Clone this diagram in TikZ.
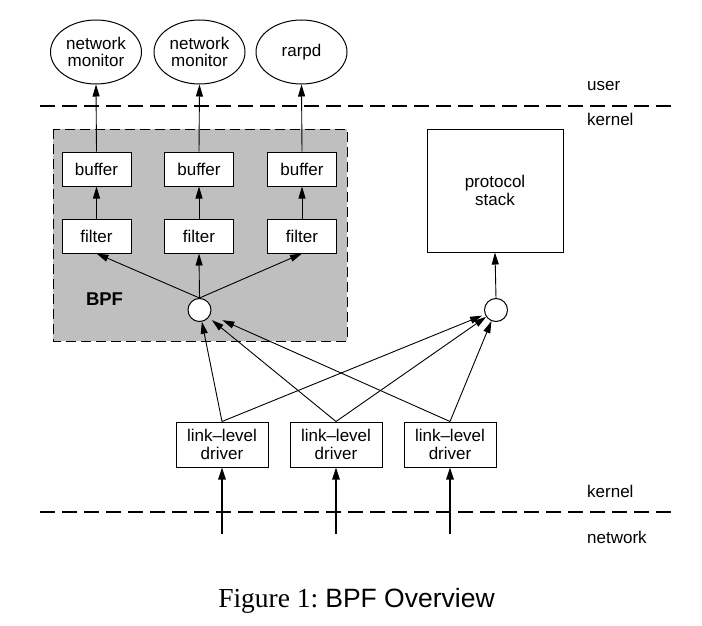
\documentclass[tikz,border=0pt]{standalone}
\usepackage{fontspec}
\setmainfont{Liberation Sans}
\newfontfamily\capserif{Liberation Serif}
\usetikzlibrary{shapes.geometric,arrows.meta}
\begin{document}
\begin{tikzpicture}[x=1pt,y=-1pt,
  every node/.style={font=\fontsize{17}{17.5}\selectfont},
  prog/.style={draw,line width=1pt,ellipse,minimum width=91pt,minimum height=64pt,inner sep=0pt,align=center},
  smallbox/.style={draw,line width=1pt,fill=white,rectangle,minimum width=69pt,minimum height=34pt,inner sep=0pt},
  drvbox/.style={draw,line width=1pt,fill=white,rectangle,minimum width=92pt,minimum height=45pt,inner sep=0pt,align=center},
  tap/.style={draw,line width=1pt,fill=white,circle,minimum size=23pt,inner sep=0pt},
  arr/.style={line width=0.9pt,-{Stealth[length=12pt,width=7pt,inset=0pt]}},
  thickarr/.style={line width=1.5pt,-{Stealth[length=12pt,width=7.5pt,inset=0pt]}},
  sep/.style={line width=1.2pt,dash pattern=on 15pt off 7pt},
  lbl/.style={anchor=base west,inner sep=0pt}
]
\useasboundingbox (0,0) rectangle (702,626);
% BPF region
\draw[line width=1pt,fill=black!25,dash pattern=on 10pt off 5pt] (53,129) rectangle (347,341);
% separators
\draw[sep] (40,106) -- (672,106);
\draw[sep] (40,512) -- (672,512);
% labels
\node[lbl] (luser) at (587,91) {user};
\node[lbl] (lkern1) at (587,125) {kernel};
\node[lbl] (lkern2) at (587,497) {kernel};
\node[lbl] (lnet) at (587,543) {network};
% programs
\node[prog] (e1) at (96,52) {network\\monitor};
\node[prog] (e2) at (199.5,52) {network\\monitor};
\node[prog] (e3) at (301.5,52) {rarpd};
% buffers and filters
\node[smallbox] (b1) at (96.5,169) {buffer};
\node[smallbox] (b2) at (199,169) {buffer};
\node[smallbox] (b3) at (302,169) {buffer};
\node[smallbox] (f1) at (96.5,236) {filter};
\node[smallbox] (f2) at (199,236) {filter};
\node[smallbox] (f3) at (302,236) {filter};
\node[tap] (c1) at (199.5,310) {};
\node[inner sep=0pt,font=\fontsize{18.5}{20}\selectfont\bfseries] (bpf) at (104.5,299) {BPF};
% protocol stack
\node[draw,line width=1pt,rectangle,minimum width=136pt,minimum height=123pt,inner sep=0pt,align=center] (ps) at (495,190.5) {protocol\\stack};
\node[tap] (c2) at (496,310) {};
% drivers
\node[drvbox] (d1) at (222,444.5) {link–level\\driver};
\node[drvbox] (d2) at (336,444.5) {link–level\\driver};
\node[drvbox] (d3) at (450,444.5) {link–level\\driver};
\coordinate (s1) at (222,534);
\coordinate (s2) at (336,534);
\coordinate (s3) at (450,534);
% connectors
\draw[arr] (b1.north) -- (e1.south);
\draw[arr] (b2.north) -- (e2.south);
\draw[arr] (b3.north) -- (e3.south);
\draw[arr] (f1.north) -- (b1.south);
\draw[arr] (f2.north) -- (b2.south);
\draw[arr] (f3.north) -- (b3.south);
\draw[arr] (c1.north) -- (f1.south);
\draw[arr] (c1.north) -- (f2.south);
\draw[arr] (c1.north) -- (f3.south);
\draw[arr] (c2.north) -- (ps.south);
\draw[arr] (d1.north) -- (c1);
\draw[arr,shorten >=4pt] (d2.north) -- (c1);
\draw[arr,shorten >=13pt] (d3.north) -- (c1);
\draw[arr,shorten >=3pt] (d1.north) -- (c2);
\draw[arr] (d2.north) -- (c2);
\draw[arr] (d3.north) -- (c2);
\draw[thickarr] (s1) -- (d1.south);
\draw[thickarr] (s2) -- (d2.south);
\draw[thickarr] (s3) -- (d3.south);
% caption
\node[anchor=base,inner sep=0pt,font=\fontsize{26.5}{28}\selectfont] (cap) at (356.5,607) {{\capserif\fontsize{27.5}{29}\selectfont Figure 1:}\hspace{7pt}BPF Overview};
\end{tikzpicture}
\end{document}
